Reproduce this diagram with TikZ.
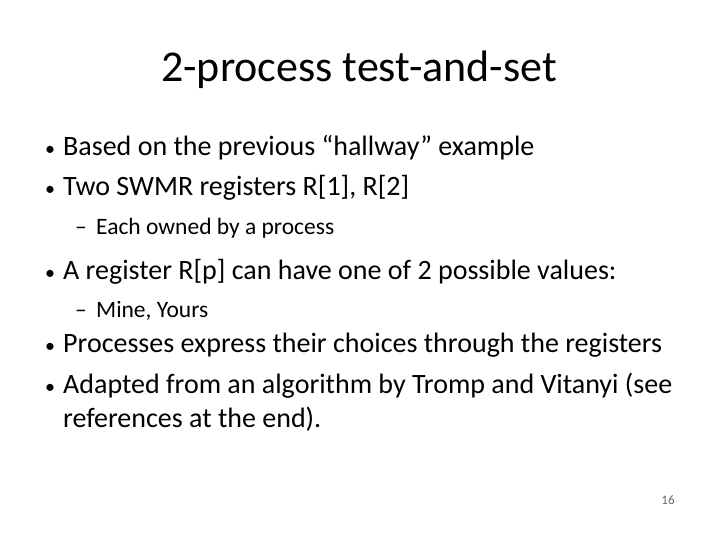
\documentclass[tikz,border=0pt]{standalone}
\usepackage{fontspec}
\setmainfont{Carlito}
\newcommand{\bul}{\makebox[18pt][l]{\fontsize{20}{20}\selectfont•}}
\newcommand{\dsh}{\makebox[21pt][l]{–}}
\tikzset{
    x=1pt, y=-1pt,
    title/.style = {anchor=base, inner sep=0pt, font=\fontsize{44}{44}\selectfont},
    item/.style = {anchor=base west, inner sep=0pt, font=\fontsize{28}{28}\selectfont},
    subitem/.style = {anchor=base west, inner sep=0pt, font=\fontsize{23.5}{23.5}\selectfont},
    pagenum/.style = {anchor=base, inner sep=0pt, font=\fontsize{13}{13}\selectfont, text=black!60},
}
\begin{document}
\begin{tikzpicture}
    \useasboundingbox (0,0) rectangle (720,540);
    \node[title] (t) at (359,82) {2-process test-and-set};
    % bullets
    \node[item] (b1) at (45,156) {\bul Based on the previous “hallway” example};
    \node[item] (b2) at (45,196) {\bul Two SWMR registers R[1], R[2]};
    \node[subitem] (s1) at (75,234) {\dsh Each owned by a process};
    \node[item] (b3) at (45,279) {\bul A register R[p] can have one of 2 possible values:};
    \node[subitem] (s2) at (75,317) {\dsh Mine, Yours};
    \node[item] (b4) at (45,352) {\bul Processes express their choices through the registers};
    \node[item] (b5) at (45,393) {\bul Adapted from an algorithm by Tromp and Vitanyi (see};
    \node[item] (b5b) at (63,427) {references at the end).};
    \node[pagenum] (p) at (668,504) {16};
\end{tikzpicture}
\end{document}
